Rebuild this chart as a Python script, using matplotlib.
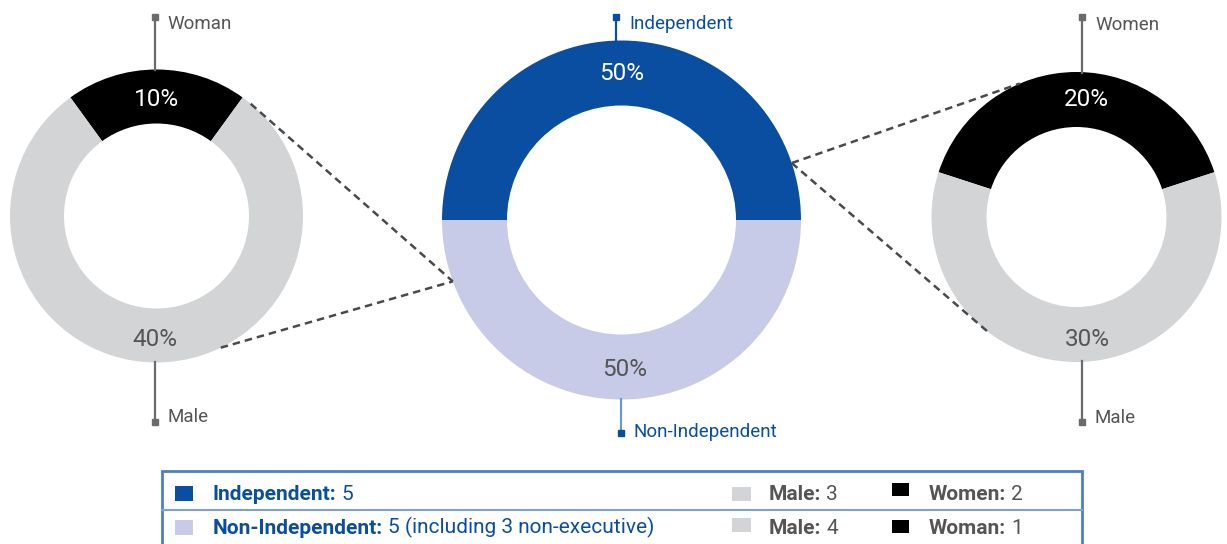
"""Board composition: independent vs non-independent, with gender split per group."""
import matplotlib
matplotlib.use("Agg")
import matplotlib.pyplot as plt
import numpy as np
from matplotlib.patches import Rectangle

plt.rcParams["font.family"] = ["Roboto", "DejaVu Sans"]

# --- data ---------------------------------------------------------------
board_groups = ["Independent", "Non-Independent"]
board_counts = [5, 5]
indep_gender = ["Women", "Male"]          # right donut
indep_counts = [2, 3]
nonindep_gender = ["Woman", "Male"]       # left donut
nonindep_counts = [1, 4]
legend_notes = ["", " (including 3 non-executive)"]

# --- style ---------------------------------------------------------------
BLUE = "#0A4EA2"
LAVENDER = "#C8CBE7"
GRAY = "#D3D4D6"
BLACK = "#000000"
TXT = "#555555"
STEM = "#6B6B6B"
BORDER = "#4D80C4"
DIVIDER = "#7FA2D2"

W, H = 1227, 544
total = sum(board_counts)


def Y(y):
    # pixel-from-top -> axis coords (y up)
    return H - y


def polar(cx, cy, r, deg):
    a = np.deg2rad(deg)
    return cx + r * np.cos(a), Y(cy) + r * np.sin(a)


fig = plt.figure(figsize=(W / 100, H / 100), dpi=100)
ax = fig.add_axes([0, 0, 1, 1])

# donut geometry (centre x, centre y from top, outer r, inner r)
L = (156.5, 216, 146.5, 92.5)
C = (621.5, 220, 179.5, 114.5)
R = (1076.5, 217, 145.0, 90.0)


def donut(geom, counts, colors, start):
    cx, cy, ro, ri = geom
    ax.pie(counts, colors=colors, startangle=start, counterclock=True,
           radius=ro, center=(cx, Y(cy)), frame=True,
           wedgeprops=dict(width=ro - ri, linewidth=0))


# black wedge centred on top
donut(L, nonindep_counts, [BLACK, GRAY], 90 - 180 * nonindep_counts[0] / sum(nonindep_counts))
donut(C, board_counts, [BLUE, LAVENDER], 0)
donut(R, indep_counts, [BLACK, GRAY], 90 - 180 * indep_counts[0] / sum(indep_counts))

# dashed connectors
dash = dict(color="#4A4A4A", lw=1.8, ls=(0, (3, 2)), zorder=3)
for (g1, a1), (g2, a2) in [((L, 50), (C, 200)), ((L, -64), (C, 200)),
                           ((C, 18.5), (R, 113)), ((C, 18.5), (R, 232))]:
    x1, y1 = polar(g1[0], g1[1], g1[2], a1)
    x2, y2 = polar(g2[0], g2[1], g2[2], a2)
    ax.plot([x1, x2], [y1, y2], **dash)

# percentage labels (share of the whole board)
pct_style = dict(ha="center", va="center", fontsize=17.5)
ax.text(L[0], Y(99), f"{100 * nonindep_counts[0] / total:.0f}%", color="white", **pct_style)
ax.text(L[0] - 2, Y(340), f"{100 * nonindep_counts[1] / total:.0f}%", color=TXT, **pct_style)
ax.text(C[0], Y(73), f"{100 * board_counts[0] / total:.0f}%", color="white", **pct_style)
ax.text(C[0] + 3, Y(369), f"{100 * board_counts[1] / total:.0f}%", color=TXT, **pct_style)
ax.text(R[0] + 10, Y(99), f"{100 * indep_counts[0] / total:.0f}%", color="white", **pct_style)
ax.text(R[0] + 11, Y(339), f"{100 * indep_counts[1] / total:.0f}%", color=TXT, **pct_style)


# label stems with square end markers
def stem(x, y_end, y_ring, label, color, line_color, ty):
    ax.plot([x, x], [Y(y_end), Y(y_ring)], color=line_color, lw=1.6, zorder=2)
    ax.plot(x, Y(y_end), marker="s", ms=4.5, color=color, mec=color, zorder=3)
    ax.text(x + 13, Y(ty), label, color=color if color == BLUE else TXT,
            fontsize=13.5, ha="left", va="center")


stem(154.5, 17, 70, nonindep_gender[0], STEM, STEM, 24)
stem(154.5, 422, 362, nonindep_gender[1], STEM, STEM, 417)
stem(616, 17, 41, board_groups[0], BLUE, BLUE, 24)
stem(620.5, 433, 399, board_groups[1], BLUE, "#6E97D2", 432)
stem(1082, 17, 73, indep_gender[0], STEM, STEM, 25)
stem(1082, 422, 361, indep_gender[1], STEM, STEM, 418)

# legend table
ax.add_patch(Rectangle((162, Y(560)), 1082 - 162, 560 - 471, fill=False,
                       ec=BORDER, lw=2, zorder=4))
ax.plot([162, 1082], [Y(510), Y(510)], color=DIVIDER, lw=1.5, zorder=4)


def rich(x, y, bold, rest, color):
    t = ax.text(x, Y(y), bold, fontsize=15, fontweight="bold", color=color,
                ha="left", va="center")
    ax.annotate(rest, xy=(1, 0), xycoords=t, xytext=(3.5, 0),
                textcoords="offset points", fontsize=15, color=color,
                ha="left", va="bottom")


rows_y = [495, 529]
group_colors = [BLUE, LAVENDER]
gender_sets = [(indep_gender, indep_counts), (nonindep_gender, nonindep_counts)]
for i, y in enumerate(rows_y):
    ax.add_patch(Rectangle((175, Y(y + 5.5)), 18, 15, color=group_colors[i], lw=0))
    rich(213, y, f"{board_groups[i]}:", f"{board_counts[i]}{legend_notes[i]}", BLUE)
    names, counts = gender_sets[i]
    ax.add_patch(Rectangle((732, Y(y + 6 - (3 if i else 0))), 19, 14, color=GRAY, lw=0))
    rich(769, y, f"{names[1]}:", f"{counts[1]}", TXT)
    ax.add_patch(Rectangle((892, Y(y + 1 + (3 if i else 0))), 17, 13, color=BLACK, lw=0))
    rich(929, y, f"{names[0]}:", f"{counts[0]}", TXT)

ax.set_xlim(0, W)
ax.set_ylim(0, H)
ax.set_aspect("equal")
ax.axis("off")

fig.savefig("out.png", dpi=100)
